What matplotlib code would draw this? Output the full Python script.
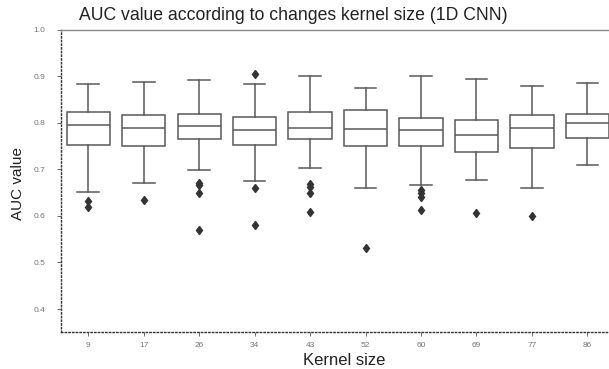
"""
Box plot of AUC value per kernel size (1D CNN), redrawn from the published figure.
"""
import numpy as np
import matplotlib

matplotlib.use("Agg")
import matplotlib.pyplot as plt

plt.rcParams["font.family"] = ["Liberation Sans", "DejaVu Sans"]

# data
kernel_sizes = ["9", "17", "26", "34", "43", "52", "60", "69", "77", "86"]
whisker_low = [0.652, 0.671, 0.699, 0.674, 0.702, 0.659, 0.666, 0.678, 0.659, 0.709]
q1 = [0.753, 0.749, 0.764, 0.753, 0.766, 0.749, 0.749, 0.736, 0.746, 0.768]
median = [0.796, 0.789, 0.793, 0.784, 0.789, 0.787, 0.784, 0.774, 0.789, 0.800]
q3 = [0.823, 0.816, 0.819, 0.812, 0.823, 0.827, 0.809, 0.806, 0.816, 0.819]
whisker_high = [0.882, 0.887, 0.891, 0.884, 0.900, 0.874, 0.900, 0.894, 0.878, 0.885]
outliers = [
    [0.632, 0.620],
    [0.635],
    [0.670, 0.666, 0.648, 0.570],
    [0.904, 0.659, 0.580],
    [0.668, 0.661, 0.648, 0.609],
    [0.531],
    [0.655, 0.648, 0.641, 0.613],
    [0.606],
    [0.600],
    [],
]

stats = [
    dict(whislo=lo, q1=a, med=m, q3=b, whishi=hi, fliers=np.array(f))
    for lo, a, m, b, hi, f in zip(whisker_low, q1, median, q3, whisker_high, outliers)
]

fig = plt.figure(figsize=(6.09, 3.69), dpi=100)
ax = fig.add_axes([60.5 / 609, 1 - 332.3 / 369, 1 - 60.5 / 609, (332.3 - 29.5) / 369])

line_c = "#595959"
ax.bxp(
    stats,
    positions=np.arange(len(kernel_sizes)),
    widths=0.78,
    patch_artist=True,
    boxprops=dict(facecolor="white", edgecolor=line_c, linewidth=1.1),
    medianprops=dict(color=line_c, linewidth=1.1),
    whiskerprops=dict(color=line_c, linewidth=1.1),
    capprops=dict(color=line_c, linewidth=1.1),
    capwidths=0.39,
    flierprops=dict(marker="d", markersize=4.5, markerfacecolor="#333333",
                    markeredgecolor="#333333"),
)

ax.set_xlim(-0.5, 9.39)
ax.set_ylim(0.35, 1.0)
ax.set_yticks([0.4, 0.5, 0.6, 0.7, 0.8, 0.9, 1.0])
ax.set_yticklabels(["0.4", "0.5", "0.6", "0.7", "0.8", "0.9", "1.0"])
ax.set_xticks(np.arange(len(kernel_sizes)))
ax.set_xticklabels(kernel_sizes)
ax.tick_params(axis="both", labelsize=6, labelcolor="#777777", color="#555555",
               length=3, width=0.6)
ax.tick_params(axis="y", pad=8)
ax.tick_params(axis="x", pad=4)

for side in ("left", "bottom"):
    ax.spines[side].set_linestyle(":")
    ax.spines[side].set_color("#333333")
    ax.spines[side].set_linewidth(1.0)
ax.spines["top"].set_color("#888888")
ax.spines["top"].set_linewidth(1.0)
ax.spines["right"].set_visible(False)

ax.set_xlabel("Kernel size", fontsize=12, color="#222222")
ax.xaxis.set_label_coords((344 - 60.5) / (609 - 60.5), -0.07)
ax.set_ylabel("AUC value", fontsize=11, color="#222222")
ax.yaxis.set_label_coords(-0.064, 0.49)

fig.text(293 / 609, 1 - 16 / 369, "AUC value according to changes kernel size (1D CNN)",
         ha="center", va="center", fontsize=12.7, color="#222222")

fig.savefig("out.png", dpi=100)
plt.close(fig)
